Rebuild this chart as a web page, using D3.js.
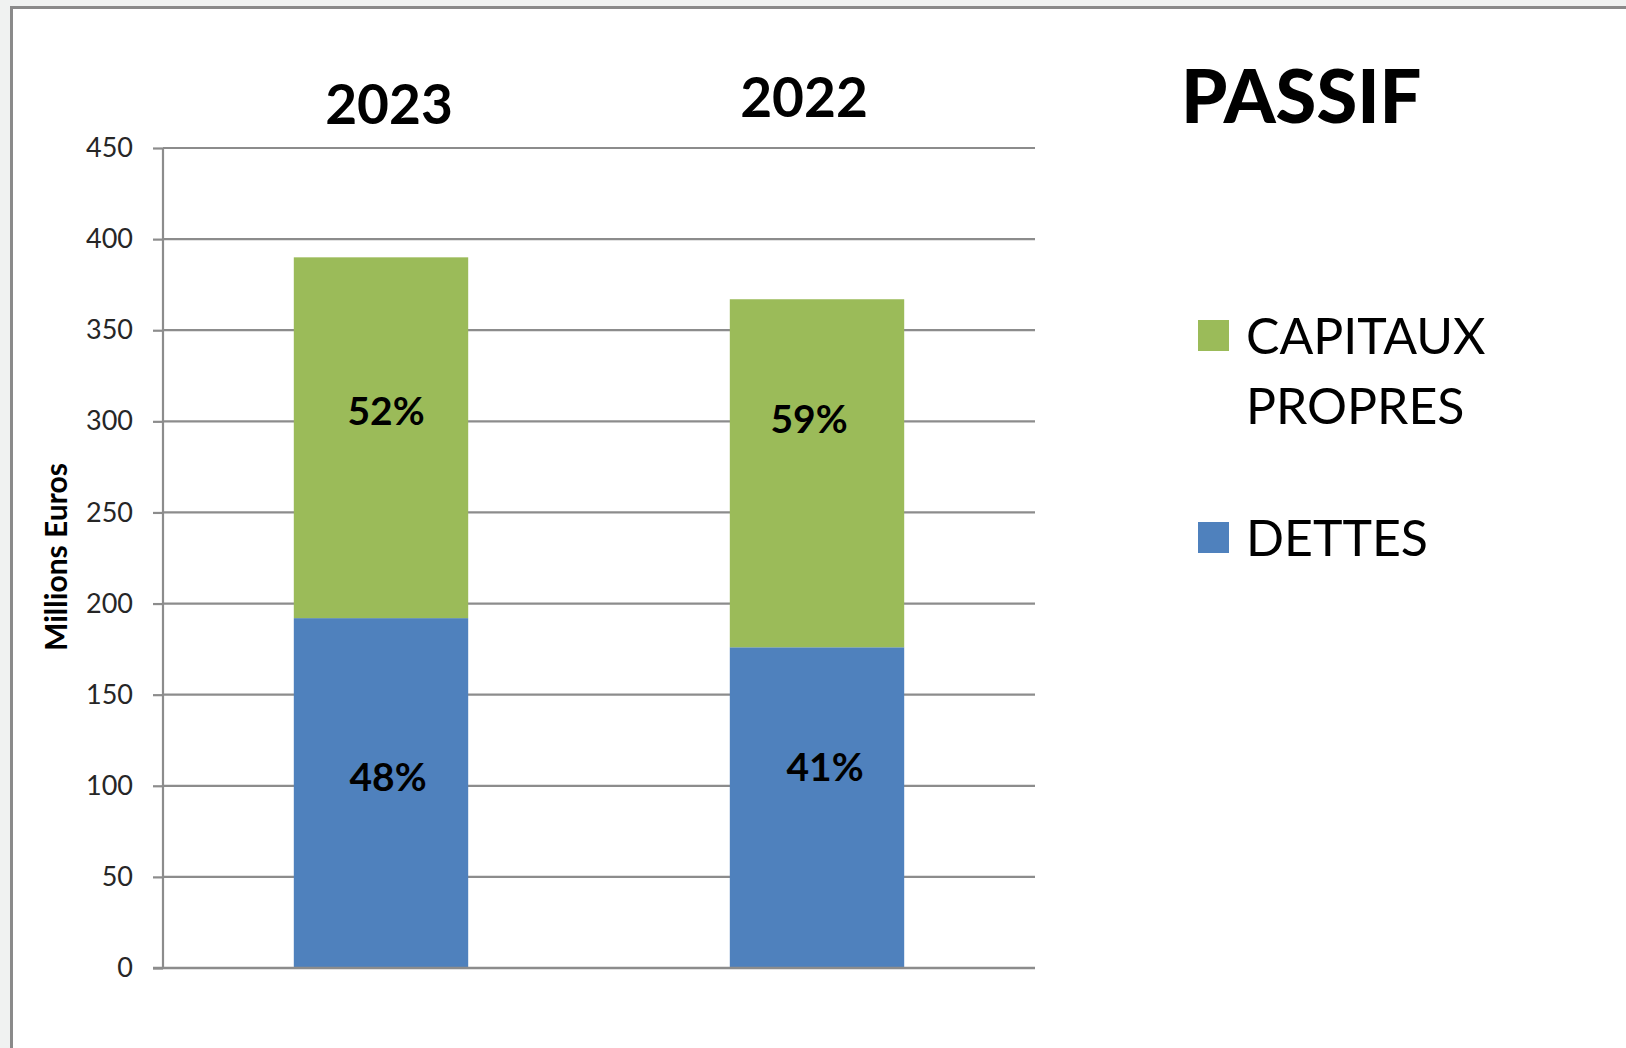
<!DOCTYPE html>
<html>
<head>
<meta charset="utf-8">
<script src="https://cdn.jsdelivr.net/npm/d3@7"></script>
<style>
  body { margin: 0; background: #f0f2f1; }
  svg { display: block; }
  text { font-family: Lato, "Open Sans", sans-serif; }
</style>
</head>
<body>
<div id="chart"></div>
<script>
// Données
const years = ["2023", "2022"];
const dettes = [192, 176];
const capitaux = [198, 191];
const dettesPct = ["48%", "41%"];
const capitauxPct = ["52%", "59%"];
const yTicks = [0, 50, 100, 150, 200, 250, 300, 350, 400, 450];
const seriesNames = ["CAPITAUX PROPRES", "DETTES"];
const seriesKeys = ["dettes", "capitaux"];

// Réglages de mise en page
const W = 1626, H = 1048;
const plot = { left: 163, right: 1035, top: 148, bottom: 968 };
const colors = { dettes: "#4f81bd", capitaux: "#9bbb59" };
const gridColor = "#8c8c8c";
// petits décalages des étiquettes (placées à la main dans l'original)
const pctNudge = {
  capitaux: [[5, -26], [-8, -54]],
  dettes: [[7, -16], [8, -40]]
};
const yearNudge = [[8, 124], [-13, 117]];

const svg = d3.select("#chart")
  .append("svg")
  .attr("width", W)
  .attr("height", H);

svg.append("rect")
  .attr("width", W).attr("height", H)
  .attr("fill", "#f0f2f1");

// Cadre blanc
svg.append("rect")
  .attr("x", 11.5).attr("y", 7.5)
  .attr("width", W + 20).attr("height", H + 20)
  .attr("fill", "#fff")
  .attr("stroke", "#8a8a8a")
  .attr("stroke-width", 3);

// Échelles
const x = d3.scaleBand()
  .domain(years)
  .range([plot.left, plot.right])
  .paddingInner(0.6)
  .paddingOuter(0.3);
const y = d3.scaleLinear()
  .domain([0, 450])
  .range([plot.bottom, plot.top]);

// Grille
svg.append("g")
  .selectAll("line")
  .data(yTicks.filter(d => d > 0))
  .join("line")
  .attr("x1", plot.left)
  .attr("x2", plot.right)
  .attr("y1", d => y(d))
  .attr("y2", d => y(d))
  .attr("stroke", gridColor)
  .attr("stroke-width", 2.2);

// Barres empilées
const table = years.map((yr, i) => ({ year: yr, dettes: dettes[i], capitaux: capitaux[i] }));
const stack = d3.stack().keys(seriesKeys)(table);

svg.append("g")
  .selectAll("g")
  .data(stack)
  .join("g")
  .attr("fill", s => colors[s.key])
  .selectAll("rect")
  .data(s => s)
  .join("rect")
  .attr("x", d => x(d.data.year))
  .attr("width", x.bandwidth())
  .attr("y", d => y(d[1]))
  .attr("height", d => y(d[0]) - y(d[1]));

// Étiquettes en pourcentage
const pctText = { dettes: dettesPct, capitaux: capitauxPct };
stack.forEach(s => {
  svg.append("g")
    .selectAll("text")
    .data(s)
    .join("text")
    .attr("x", (d, i) => x(d.data.year) + x.bandwidth() / 2 + pctNudge[s.key][i][0])
    .attr("y", (d, i) => (y(d[0]) + y(d[1])) / 2 + pctNudge[s.key][i][1])
    .attr("dy", "0.35em")
    .attr("text-anchor", "middle")
    .attr("font-size", 39)
    .attr("font-weight", 700)
    .attr("fill", "#000")
    .text((d, i) => pctText[s.key][i]);
});

// Axe Y
const yAxis = d3.axisLeft(y)
  .tickValues(yTicks)
  .tickSize(10)
  .tickPadding(20);

const gy = svg.append("g")
  .attr("transform", `translate(${plot.left},0)`)
  .call(yAxis);
gy.select(".domain").remove();
gy.selectAll(".tick line").attr("stroke", gridColor).attr("stroke-width", 2.2);
gy.selectAll(".tick text")
  .attr("font-family", "Lato, sans-serif")
  .attr("font-size", 27)
  .attr("fill", "#262626");

svg.append("line")
  .attr("x1", plot.left).attr("x2", plot.left)
  .attr("y1", plot.top).attr("y2", plot.bottom)
  .attr("stroke", gridColor)
  .attr("stroke-width", 2.2);

// Ligne de base
svg.append("line")
  .attr("x1", plot.left - 10).attr("x2", plot.right)
  .attr("y1", y(0)).attr("y2", y(0))
  .attr("stroke", gridColor)
  .attr("stroke-width", 2.6);

// Titre de l'axe
svg.append("text")
  .attr("transform", `translate(67,557) rotate(-90)`)
  .attr("text-anchor", "middle")
  .attr("font-size", 30)
  .attr("font-weight", 700)
  .attr("fill", "#000")
  .text("Millions Euros");

// Années
svg.append("g")
  .selectAll("text")
  .data(years)
  .join("text")
  .attr("x", (d, i) => x(d) + x.bandwidth() / 2 + yearNudge[i][0])
  .attr("y", (d, i) => yearNudge[i][1])
  .attr("text-anchor", "middle")
  .attr("font-size", 55)
  .attr("font-weight", 700)
  .attr("fill", "#000")
  .text(d => d);

// Titre
svg.append("text")
  .attr("x", 1181)
  .attr("y", 123)
  .attr("font-size", 74)
  .attr("font-weight", 900)
  .attr("fill", "#000")
  .text("PASSIF");

// Légende
const legend = svg.append("g");
const legendItems = [
  { name: seriesNames[0], key: "capitaux", y: 320 },
  { name: seriesNames[1], key: "dettes", y: 522 }
];
legendItems.forEach(item => {
  legend.append("rect")
    .attr("x", 1198)
    .attr("y", item.y)
    .attr("width", 31)
    .attr("height", 31)
    .attr("fill", colors[item.key]);
  const words = item.name.split(" ");
  const t = legend.append("text")
    .attr("font-size", 50)
    .attr("fill", "#000");
  words.forEach((w, i) => {
    t.append("tspan")
      .attr("x", 1246)
      .attr("y", item.y + 34 + i * 70)
      .text(w);
  });
});
</script>
</body>
</html>
